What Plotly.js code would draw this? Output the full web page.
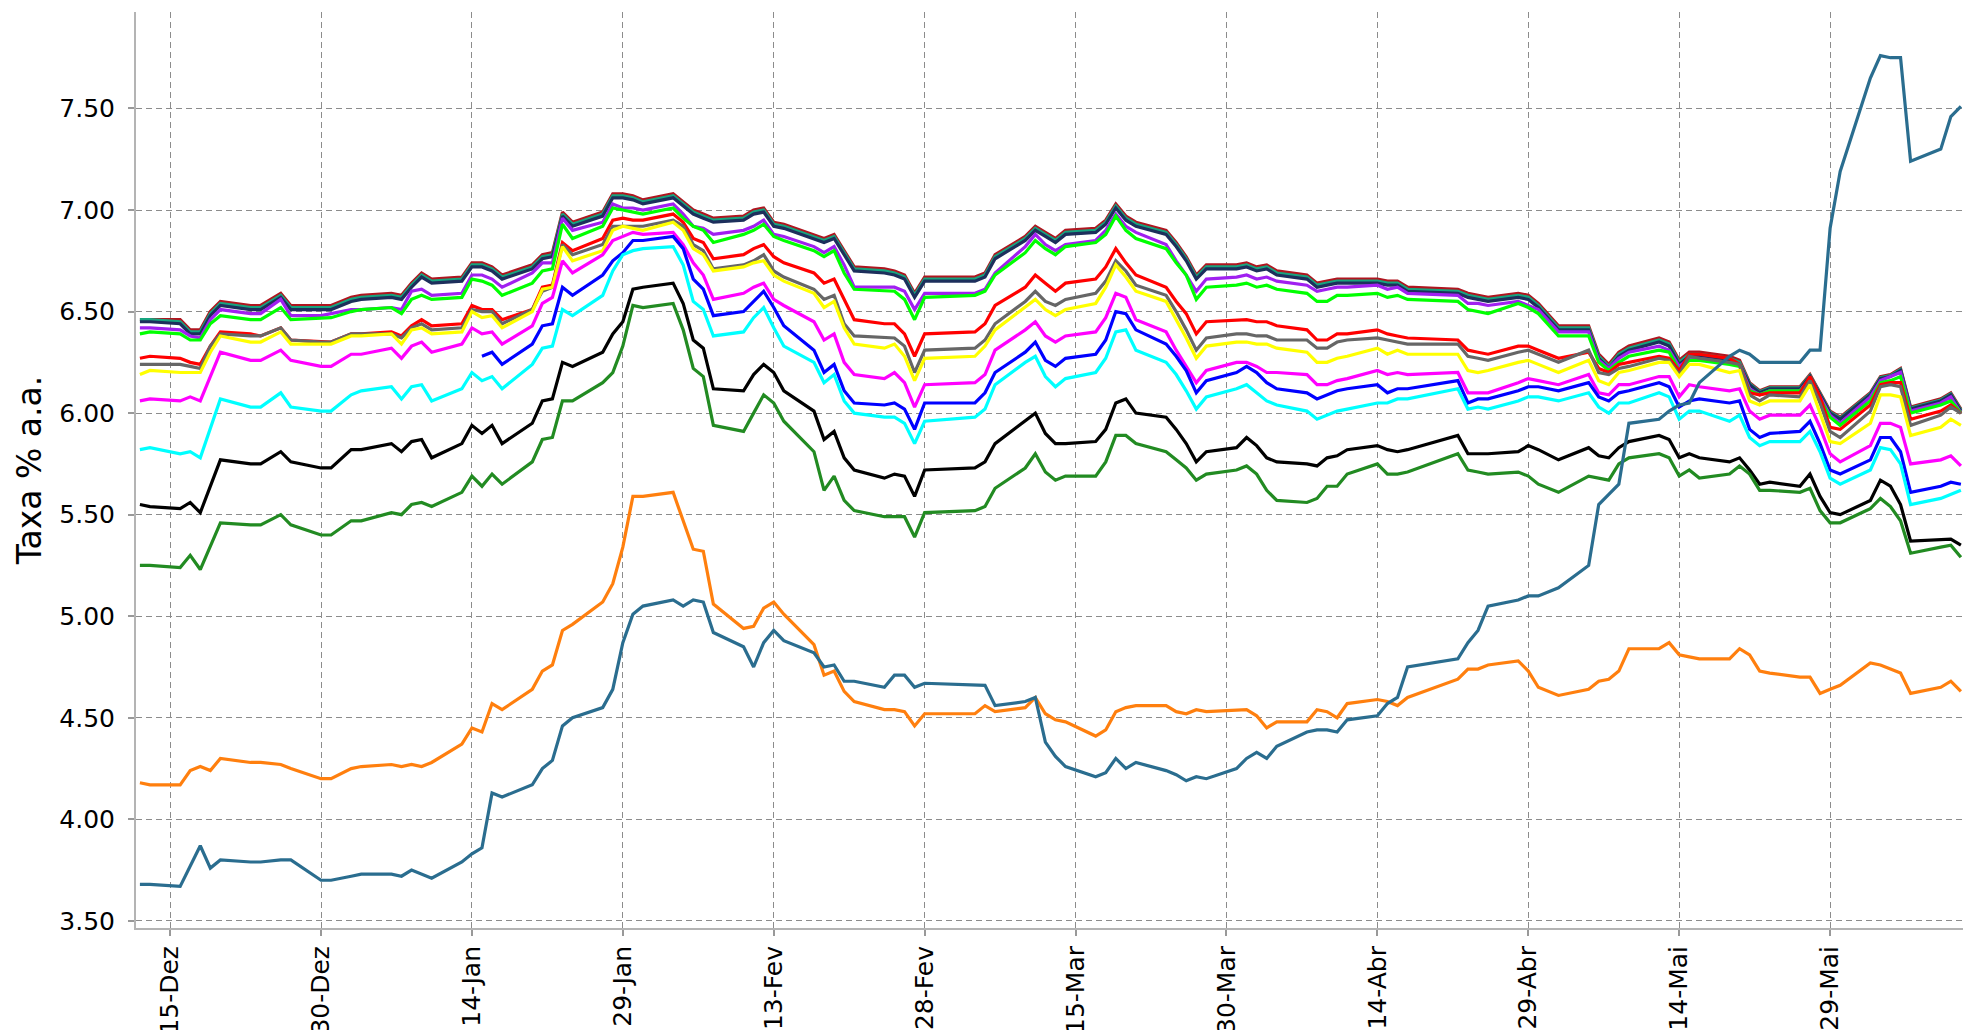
<!DOCTYPE html>
<html>
<head>
<meta charset="utf-8">
<script src="https://cdn.plot.ly/plotly-3.0.1.min.js"></script>
<style>
  body { margin: 0; background: #fff; }
  #grafico { width: 1963px; height: 1030px; }
</style>
</head>
<body>
<div id="grafico"></div>
<script>
// datas dos pregoes (dez/2013 a jun/2014)
var datas = [
  '2013-12-12','2013-12-13','2013-12-16','2013-12-17','2013-12-18','2013-12-19','2013-12-20','2013-12-23','2013-12-24','2013-12-26',
  '2013-12-27','2013-12-30','2013-12-31','2014-01-02','2014-01-03','2014-01-06','2014-01-07','2014-01-08','2014-01-09','2014-01-10',
  '2014-01-13','2014-01-14','2014-01-15','2014-01-16','2014-01-17','2014-01-20','2014-01-21','2014-01-22','2014-01-23','2014-01-24',
  '2014-01-27','2014-01-28','2014-01-29','2014-01-30','2014-01-31','2014-02-03','2014-02-04','2014-02-05','2014-02-06','2014-02-07',
  '2014-02-10','2014-02-11','2014-02-12','2014-02-13','2014-02-14','2014-02-17','2014-02-18','2014-02-19','2014-02-20','2014-02-21',
  '2014-02-24','2014-02-25','2014-02-26','2014-02-27','2014-02-28','2014-03-05','2014-03-06','2014-03-07','2014-03-10','2014-03-11',
  '2014-03-12',
  '2014-03-13','2014-03-14','2014-03-17','2014-03-18','2014-03-19','2014-03-20','2014-03-21','2014-03-24','2014-03-25','2014-03-26',
  '2014-03-27','2014-03-28','2014-03-31','2014-04-01','2014-04-02','2014-04-03','2014-04-04','2014-04-07','2014-04-08','2014-04-09',
  '2014-04-10','2014-04-11','2014-04-14','2014-04-15','2014-04-16','2014-04-17','2014-04-22','2014-04-23','2014-04-24','2014-04-25',
  '2014-04-28','2014-04-29','2014-04-30','2014-05-02','2014-05-05','2014-05-06','2014-05-07','2014-05-08','2014-05-09','2014-05-12',
  '2014-05-13','2014-05-14','2014-05-15','2014-05-16','2014-05-19','2014-05-20','2014-05-21','2014-05-22','2014-05-23','2014-05-26',
  '2014-05-27','2014-05-28','2014-05-29','2014-05-30','2014-06-02','2014-06-03','2014-06-04','2014-06-05','2014-06-06','2014-06-09',
  '2014-06-10','2014-06-11'
];

// taxas % a.a. de cada vertice
var taxaA = [
  6.46,6.46,6.46,6.41,6.41,6.50,6.55,6.53,6.53,6.59,6.53,6.53,6.53,6.57,6.58,6.59,6.58,6.64,6.69,6.66,6.67,6.74,6.74,6.72,6.68,6.73,6.78,6.79,6.99,6.94,
  6.99,7.08,7.08,7.07,7.05,7.08,7.04,7.00,6.98,6.96,6.97,7.00,7.01,6.94,6.93,6.88,6.86,6.88,6.80,6.72,6.71,6.70,6.68,6.59,6.67,6.67,6.69,6.78,6.87,6.92,6.89,
  6.86,6.90,6.91,6.95,7.03,6.97,6.94,6.90,6.84,6.77,6.68,6.73,6.73,6.74,6.72,6.73,6.70,6.68,6.64,6.65,6.66,6.66,6.66,6.65,6.65,6.62,6.61,6.59,6.58,6.57,
  6.59,6.58,6.54,6.43,6.43,6.29,6.24,6.30,6.33,6.37,6.35,6.26,6.30,6.30,6.28,6.26,6.15,6.11,6.13,6.13,6.19,6.10,6.01,5.98,6.10,6.18,6.19,6.22,6.03,6.07,6.10,6.02
];
var taxaB = [
  6.46,6.46,6.45,6.40,6.40,6.49,6.54,6.52,6.52,6.58,6.52,6.52,6.52,6.56,6.57,6.58,6.57,6.63,6.68,6.65,6.66,6.73,6.73,6.71,6.67,6.72,6.77,6.78,6.98,6.93,
  6.98,7.07,7.07,7.06,7.04,7.07,7.03,6.99,6.97,6.95,6.96,6.99,7.00,6.93,6.92,6.87,6.85,6.87,6.79,6.71,6.70,6.69,6.67,6.58,6.66,6.66,6.68,6.77,6.86,6.91,6.88,
  6.85,6.89,6.90,6.94,7.02,6.96,6.93,6.89,6.83,6.76,6.67,6.72,6.72,6.73,6.71,6.72,6.69,6.67,6.63,6.64,6.65,6.65,6.65,6.64,6.64,6.61,6.60,6.58,6.57,6.56,
  6.58,6.57,6.53,6.42,6.42,6.28,6.23,6.29,6.32,6.36,6.34,6.25,6.29,6.29,6.27,6.25,6.145,6.105,6.125,6.125,6.185,6.095,6.005,5.975,6.095,6.175,6.185,6.215,6.025,6.065,6.095,6.015
];
var taxaC = [
  6.45,6.45,6.44,6.39,6.39,6.48,6.53,6.51,6.51,6.57,6.51,6.51,6.51,6.55,6.56,6.57,6.56,6.62,6.67,6.64,6.65,6.72,6.72,6.70,6.66,6.71,6.76,6.77,6.97,6.92,
  6.97,7.06,7.06,7.05,7.03,7.06,7.02,6.98,6.96,6.94,6.95,6.98,6.99,6.92,6.91,6.86,6.84,6.86,6.78,6.70,6.69,6.68,6.66,6.57,6.65,6.65,6.67,6.76,6.85,6.90,6.87,
  6.84,6.88,6.89,6.93,7.01,6.95,6.92,6.88,6.82,6.75,6.66,6.71,6.71,6.72,6.70,6.71,6.68,6.66,6.62,6.63,6.64,6.64,6.64,6.63,6.63,6.60,6.59,6.57,6.56,6.55,
  6.57,6.56,6.52,6.41,6.41,6.27,6.22,6.28,6.31,6.35,6.33,6.24,6.28,6.28,6.26,6.24,6.14,6.10,6.12,6.12,6.18,6.09,6.00,5.97,6.09,6.17,6.18,6.21,6.02,6.06,6.09,6.01
];
var taxaD = [
  6.42,6.42,6.41,6.38,6.37,6.46,6.51,6.49,6.49,6.56,6.48,6.48,6.49,6.51,6.51,6.52,6.51,6.60,6.61,6.58,6.59,6.68,6.68,6.66,6.62,6.69,6.74,6.74,6.96,6.90,
  6.94,7.03,7.01,7.01,7.00,7.03,6.98,6.92,6.91,6.88,6.90,6.92,6.95,6.88,6.87,6.82,6.79,6.82,6.73,6.62,6.62,6.62,6.60,6.51,6.59,6.59,6.61,6.69,6.82,6.88,6.83,
  6.80,6.83,6.85,6.90,6.98,6.92,6.89,6.83,6.75,6.68,6.60,6.66,6.67,6.68,6.66,6.67,6.65,6.63,6.60,6.61,6.62,6.62,6.63,6.61,6.62,6.59,6.58,6.54,6.54,6.53,
  6.55,6.53,6.51,6.40,6.40,6.26,6.22,6.27,6.30,6.33,6.31,6.23,6.27,6.27,6.25,6.24,6.12,6.09,6.11,6.11,6.17,6.08,5.99,5.95,6.08,6.16,6.18,6.20,6.01,6.05,6.08,6.00
];
var taxaE = [
  6.39,6.40,6.39,6.36,6.36,6.44,6.48,6.46,6.46,6.52,6.46,6.47,6.47,6.50,6.51,6.52,6.49,6.56,6.58,6.56,6.57,6.66,6.65,6.63,6.58,6.64,6.70,6.71,6.93,6.86,
  6.92,7.01,7.00,6.99,6.98,7.01,6.96,6.92,6.90,6.84,6.88,6.90,6.93,6.87,6.85,6.80,6.77,6.80,6.69,6.61,6.60,6.60,6.56,6.46,6.57,6.58,6.60,6.68,6.79,6.85,6.81,
  6.78,6.82,6.84,6.88,6.97,6.90,6.86,6.81,6.74,6.68,6.56,6.62,6.63,6.64,6.62,6.63,6.61,6.59,6.55,6.55,6.58,6.58,6.59,6.57,6.58,6.56,6.55,6.51,6.50,6.49,
  6.54,6.52,6.49,6.38,6.38,6.25,6.21,6.25,6.28,6.31,6.30,6.21,6.26,6.26,6.24,6.23,6.11,6.09,6.11,6.11,6.16,6.07,5.98,5.94,6.06,6.15,6.16,6.18,6.00,6.04,6.06,6.00
];
var taxaF = [
  6.27,6.28,6.27,6.25,6.24,6.33,6.40,6.39,6.38,6.42,6.36,6.35,6.35,6.39,6.39,6.40,6.38,6.43,6.46,6.43,6.44,6.53,6.51,6.51,6.46,6.51,6.62,6.63,6.84,6.80,
  6.86,6.95,6.96,6.95,6.95,6.98,6.94,6.86,6.84,6.76,6.78,6.81,6.83,6.77,6.74,6.69,6.64,6.66,6.56,6.46,6.44,6.44,6.39,6.28,6.39,6.40,6.44,6.53,6.62,6.68,6.64,
  6.60,6.64,6.66,6.72,6.81,6.74,6.68,6.62,6.55,6.49,6.39,6.45,6.46,6.46,6.45,6.45,6.43,6.41,6.36,6.36,6.39,6.39,6.41,6.39,6.38,6.37,6.36,6.31,6.30,6.29,
  6.33,6.33,6.31,6.27,6.30,6.22,6.20,6.24,6.25,6.28,6.27,6.21,6.29,6.29,6.27,6.24,6.10,6.09,6.10,6.10,6.18,6.08,5.93,5.92,6.04,6.14,6.15,6.15,5.97,6.01,6.04,6.00
];
var taxaG = [
  6.24,6.24,6.24,6.23,6.22,6.33,6.39,6.38,6.38,6.42,6.36,6.35,6.35,6.39,6.39,6.39,6.37,6.42,6.44,6.41,6.42,6.51,6.50,6.50,6.44,6.51,6.60,6.62,6.83,6.78,
  6.83,6.92,6.92,6.92,6.92,6.95,6.92,6.83,6.80,6.71,6.73,6.75,6.78,6.70,6.67,6.61,6.56,6.58,6.44,6.38,6.37,6.37,6.33,6.20,6.31,6.32,6.36,6.44,6.55,6.60,6.55,
  6.53,6.56,6.59,6.65,6.75,6.70,6.63,6.58,6.50,6.41,6.31,6.37,6.39,6.39,6.38,6.38,6.36,6.36,6.32,6.32,6.35,6.36,6.37,6.36,6.35,6.34,6.34,6.28,6.27,6.26,
  6.30,6.31,6.29,6.25,6.31,6.20,6.19,6.22,6.23,6.27,6.26,6.19,6.28,6.27,6.25,6.24,6.09,6.06,6.09,6.08,6.16,6.05,5.91,5.88,6.01,6.13,6.14,6.13,5.94,5.99,6.03,6.00
];
var taxaH = [
  6.19,6.21,6.20,6.20,6.20,6.30,6.38,6.35,6.35,6.40,6.34,6.34,6.34,6.38,6.38,6.39,6.34,6.41,6.42,6.39,6.40,6.50,6.47,6.48,6.42,6.50,6.61,6.62,6.82,6.75,
  6.80,6.90,6.92,6.91,6.90,6.94,6.90,6.81,6.78,6.70,6.72,6.74,6.75,6.68,6.65,6.59,6.52,6.55,6.42,6.34,6.32,6.34,6.28,6.16,6.27,6.28,6.33,6.41,6.52,6.56,6.51,
  6.48,6.51,6.54,6.62,6.73,6.67,6.60,6.55,6.46,6.37,6.27,6.33,6.35,6.35,6.34,6.34,6.32,6.30,6.25,6.25,6.27,6.28,6.32,6.29,6.31,6.29,6.29,6.21,6.20,6.21,
  6.25,6.26,6.24,6.20,6.26,6.16,6.14,6.20,6.21,6.25,6.25,6.18,6.24,6.24,6.20,6.21,6.06,6.04,6.06,6.06,6.14,6.00,5.86,5.85,5.95,6.09,6.09,6.08,5.89,5.93,5.97,5.94
];
var taxaI = [
  6.06,6.07,6.06,6.08,6.06,6.18,6.30,6.26,6.26,6.31,6.26,6.23,6.23,6.29,6.29,6.32,6.27,6.33,6.35,6.30,6.34,6.42,6.39,6.40,6.34,6.43,6.54,6.57,6.75,6.69,
  6.78,6.85,6.87,6.89,6.88,6.89,6.83,6.74,6.68,6.56,6.59,6.62,6.64,6.56,6.53,6.45,6.36,6.39,6.25,6.19,6.17,6.20,6.15,6.03,6.14,6.15,6.19,6.31,6.41,6.45,6.38,
  6.35,6.38,6.40,6.47,6.59,6.57,6.46,6.40,6.31,6.23,6.15,6.21,6.25,6.25,6.23,6.20,6.20,6.19,6.14,6.14,6.16,6.17,6.21,6.19,6.20,6.19,6.20,6.10,6.10,6.10,
  6.15,6.17,6.16,6.14,6.19,6.10,6.09,6.14,6.14,6.18,6.18,6.08,6.14,6.13,6.11,6.12,6.01,5.97,5.99,5.99,6.04,5.93,5.80,5.76,5.84,5.95,5.95,5.93,5.75,5.77,5.79,5.74
];
var taxaJ = [
  null,null,null,null,null,null,null,null,null,null,null,null,null,null,null,null,null,null,null,null,null,null,6.28,6.30,6.24,6.34,6.43,6.44,6.62,6.58,
  6.68,6.75,6.79,6.85,6.85,6.87,6.81,6.66,6.61,6.48,6.50,6.55,6.60,6.52,6.43,6.31,6.20,6.24,6.11,6.05,6.04,6.05,6.02,5.92,6.05,6.05,6.10,6.20,6.30,6.35,6.26,
  6.23,6.27,6.29,6.36,6.50,6.49,6.41,6.34,6.28,6.21,6.10,6.16,6.20,6.23,6.20,6.15,6.12,6.10,6.07,6.09,6.11,6.12,6.14,6.10,6.12,6.12,6.16,6.05,6.07,6.07,
  6.11,6.13,6.13,6.11,6.15,6.08,6.06,6.10,6.11,6.15,6.13,6.03,6.06,6.07,6.05,6.06,5.92,5.88,5.90,5.91,5.96,5.85,5.72,5.70,5.77,5.88,5.88,5.81,5.61,5.64,5.66,5.65
];
var taxaK = [
  5.82,5.83,5.80,5.81,5.78,5.93,6.07,6.03,6.03,6.10,6.03,6.01,6.01,6.09,6.11,6.13,6.07,6.13,6.14,6.06,6.12,6.20,6.16,6.18,6.12,6.24,6.32,6.33,6.51,6.48,
  6.58,6.70,6.78,6.80,6.81,6.82,6.73,6.55,6.51,6.38,6.40,6.47,6.52,6.42,6.33,6.25,6.15,6.19,6.06,6.00,5.98,5.98,5.95,5.85,5.96,5.98,6.02,6.14,6.25,6.28,6.18,
  6.13,6.17,6.20,6.27,6.40,6.41,6.31,6.25,6.19,6.11,6.02,6.08,6.12,6.14,6.10,6.06,6.04,6.01,5.97,5.99,6.01,6.02,6.05,6.05,6.07,6.07,6.12,6.02,6.03,6.02,
  6.06,6.08,6.08,6.06,6.10,6.03,6.00,6.05,6.05,6.10,6.08,5.97,6.01,6.01,5.96,5.99,5.88,5.84,5.86,5.86,5.91,5.81,5.68,5.65,5.72,5.83,5.82,5.75,5.55,5.58,5.60,5.62
];
var taxaL = [
  5.55,5.54,5.53,5.56,5.51,5.64,5.77,5.75,5.75,5.81,5.76,5.73,5.73,5.82,5.82,5.85,5.81,5.86,5.87,5.78,5.85,5.94,5.90,5.94,5.85,5.95,6.06,6.07,6.25,6.23,
  6.30,6.39,6.45,6.61,6.62,6.64,6.54,6.36,6.32,6.12,6.11,6.19,6.24,6.20,6.11,6.01,5.87,5.91,5.78,5.72,5.68,5.70,5.69,5.59,5.72,5.73,5.76,5.85,5.96,6.00,5.90,
  5.85,5.85,5.86,5.92,6.05,6.07,6.00,5.98,5.92,5.85,5.76,5.81,5.83,5.88,5.84,5.78,5.76,5.75,5.74,5.78,5.79,5.82,5.84,5.82,5.81,5.82,5.89,5.80,5.80,5.80,
  5.81,5.84,5.82,5.77,5.83,5.79,5.78,5.83,5.86,5.89,5.87,5.78,5.80,5.78,5.76,5.78,5.72,5.65,5.66,5.64,5.70,5.59,5.51,5.50,5.57,5.67,5.64,5.55,5.37,5.38,5.38,5.35
];
var taxaM = [
  5.25,5.25,5.24,5.30,5.23,5.35,5.46,5.45,5.45,5.50,5.45,5.40,5.40,5.47,5.47,5.51,5.50,5.55,5.56,5.54,5.61,5.69,5.64,5.70,5.65,5.76,5.87,5.88,6.06,6.06,
  6.15,6.20,6.33,6.53,6.52,6.54,6.41,6.22,6.18,5.94,5.91,6.00,6.09,6.05,5.96,5.81,5.62,5.69,5.57,5.52,5.49,5.49,5.49,5.39,5.51,5.52,5.54,5.63,5.73,5.80,5.71,
  5.67,5.69,5.69,5.76,5.89,5.89,5.85,5.81,5.77,5.73,5.67,5.70,5.72,5.74,5.70,5.62,5.57,5.56,5.58,5.64,5.64,5.70,5.75,5.70,5.70,5.71,5.80,5.72,5.71,5.70,
  5.71,5.69,5.65,5.61,5.69,5.68,5.67,5.75,5.78,5.80,5.78,5.69,5.72,5.68,5.70,5.74,5.70,5.62,5.62,5.61,5.63,5.52,5.46,5.46,5.53,5.58,5.54,5.47,5.31,5.34,5.35,5.29
];
var taxaN = [
  4.18,4.17,4.17,4.24,4.26,4.24,4.30,4.28,4.28,4.27,4.25,4.20,4.20,4.25,4.26,4.27,4.26,4.27,4.26,4.28,4.37,4.45,4.43,4.57,4.54,4.64,4.73,4.76,4.93,4.96,
  5.07,5.16,5.34,5.59,5.59,5.61,5.47,5.33,5.32,5.06,4.94,4.95,5.04,5.07,5.01,4.86,4.71,4.73,4.63,4.58,4.54,4.54,4.53,4.46,4.52,4.52,4.56,4.53,4.55,4.60,4.52,
  4.49,4.48,4.41,4.44,4.53,4.55,4.56,4.56,4.53,4.52,4.54,4.53,4.54,4.54,4.51,4.45,4.48,4.48,4.54,4.53,4.50,4.57,4.59,4.58,4.56,4.60,4.69,4.74,4.74,4.76,
  4.78,4.73,4.65,4.61,4.64,4.68,4.69,4.73,4.84,4.84,4.87,4.81,4.80,4.79,4.79,4.84,4.81,4.73,4.72,4.70,4.70,4.62,4.64,4.66,4.77,4.76,4.74,4.72,4.62,4.65,4.68,4.63
];
var taxaO = [
  3.68,3.68,3.67,3.77,3.87,3.76,3.80,3.79,3.79,3.80,3.80,3.70,3.70,3.72,3.73,3.73,3.72,3.75,3.73,3.71,3.79,3.83,3.86,4.13,4.11,4.17,4.25,4.29,4.46,4.50,
  4.55,4.64,4.87,5.01,5.05,5.08,5.05,5.08,5.07,4.92,4.85,4.75,4.87,4.93,4.88,4.82,4.75,4.76,4.68,4.68,4.65,4.71,4.71,4.65,4.67,4.66,4.66,4.56,4.58,4.60,4.38,
  4.31,4.26,4.21,4.23,4.30,4.25,4.28,4.24,4.22,4.19,4.21,4.20,4.25,4.30,4.33,4.30,4.36,4.43,4.44,4.44,4.43,4.49,4.51,4.57,4.60,4.75,4.79,4.87,4.93,5.05,
  5.08,5.10,5.10,5.14,5.25,5.55,5.60,5.65,5.95,5.97,6.01,6.04,6.05,6.15,6.28,6.31,6.29,6.25,6.25,6.25,6.31,6.31,6.91,7.19,7.65,7.76,7.75,7.75,7.24,7.30,7.46,7.51
];

var series = [taxaA, taxaB, taxaC, taxaD, taxaE, taxaF, taxaG, taxaH, taxaI, taxaJ, taxaK, taxaL, taxaM, taxaN, taxaO];
var cores = ['#b0151f', '#17a47f', '#1d2f5c', '#a020f0', '#00ff00', '#ff0000', '#666666', '#ffff00',
             '#ff00ff', '#0000ff', '#00ffff', '#000000', '#228b22', '#ff7f0e', '#2a6d8f'];

var diasTick = ['2013-12-15','2013-12-30','2014-01-14','2014-01-29','2014-02-13','2014-02-28',
                '2014-03-15','2014-03-30','2014-04-14','2014-04-29','2014-05-14','2014-05-29'];
var rotulosTick = ['15-Dez','30-Dez','14-Jan','29-Jan','13-Fev','28-Fev',
                   '15-Mar','30-Mar','14-Abr','29-Abr','14-Mai','29-Mai'];
var valoresY = [3.5, 4.0, 4.5, 5.0, 5.5, 6.0, 6.5, 7.0, 7.5];

var data = series.map(function (s, i) {
  return {
    x: datas,
    y: s,
    type: 'scatter',
    mode: 'lines',
    line: {color: cores[i], width: 3.2},
    hoverinfo: 'x+y'
  };
});

var layout = {
  width: 1963,
  height: 1030,
  margin: {l: 136, r: 0, t: 12, b: 102},
  paper_bgcolor: '#ffffff',
  plot_bgcolor: '#ffffff',
  showlegend: false,
  font: {family: 'DejaVu Sans', size: 25, color: '#000000'},
  xaxis: {
    type: 'date',
    range: ['2013-12-11 14:40', '2014-06-11 05:00'],
    tickmode: 'array',
    tickvals: diasTick,
    ticktext: rotulosTick,
    tickangle: -90,
    tickfont: {size: 25},
    showgrid: true,
    gridcolor: '#8c8c8c',
    griddash: '6px,4px',
    gridwidth: 1,
    showline: true,
    linecolor: '#b4b4b4',
    linewidth: 2,
    ticks: 'outside',
    ticklen: 6,
    tickwidth: 2,
    tickcolor: '#999999',
    zeroline: false,
    automargin: false
  },
  yaxis: {
    range: [3.465, 7.975],
    tickmode: 'array',
    tickvals: valoresY,
    tickformat: '.2f',
    tickfont: {size: 25},
    showgrid: true,
    gridcolor: '#8c8c8c',
    griddash: '6px,4px',
    gridwidth: 1,
    showline: true,
    linecolor: '#b4b4b4',
    linewidth: 2,
    ticks: 'outside',
    ticklen: 6,
    tickwidth: 2,
    tickcolor: '#999999',
    ticklabelstandoff: 8,
    zeroline: false,
    automargin: false,
    title: {text: 'Taxa % a.a.', font: {size: 33}, standoff: 8}
  }
};

Plotly.newPlot('grafico', data, layout, {staticPlot: true});
</script>
</body>
</html>
